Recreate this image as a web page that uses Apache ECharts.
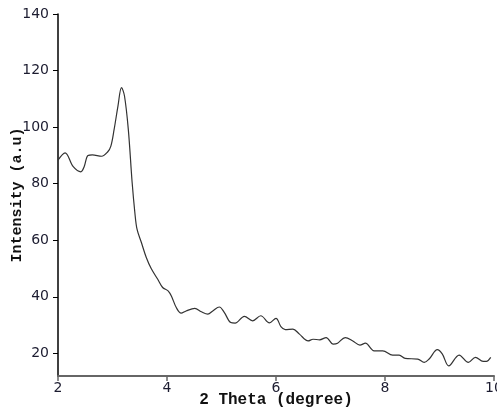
<!DOCTYPE html>
<html>
<head>
<meta charset="utf-8">
<script src="https://cdn.jsdelivr.net/npm/echarts@6/dist/echarts.min.js"></script>
<style>
html,body{margin:0;padding:0;background:#fff;}
#chart{width:497px;height:410px;}
</style>
</head>
<body>
<div id="chart"></div>
<script>
var twoTheta = [2.00,2.13,2.28,2.42,2.48,2.55,2.63,2.80,2.91,2.97,3.03,3.10,3.165,3.22,3.29,3.36,3.41,3.45,3.53,3.62,3.71,3.83,3.92,4.02,4.08,4.17,4.26,4.35,4.51,4.63,4.75,4.84,4.96,5.05,5.17,5.25,5.42,5.57,5.72,5.88,6.00,6.09,6.17,6.31,6.43,6.59,6.68,6.80,6.92,7.05,7.13,7.27,7.41,7.54,7.64,7.80,7.96,8.14,8.26,8.37,8.60,8.72,8.81,8.96,9.05,9.17,9.36,9.53,9.66,9.80,9.86,9.94];
var intensity = [88.3,90.9,86.0,84.2,86.0,90.0,90.2,89.7,91.2,93.3,99.2,107.4,114.0,111.0,99.2,80.5,69.8,63.9,59.2,53.9,50.0,46.2,43.3,42.1,40.3,36.2,34.2,35.0,35.9,34.7,33.9,35.0,36.4,34.5,30.9,30.7,33.1,31.5,33.3,30.8,32.4,29.5,28.4,28.6,26.8,24.4,25.0,24.8,25.6,23.3,23.6,25.6,24.4,22.9,23.6,20.9,20.9,19.4,19.4,18.2,18.0,16.8,18.0,21.3,19.8,15.6,19.4,16.8,18.6,17.2,17.2,18.6];
var yTicks = [20,40,60,80,100,120,140];
var xTicks = [2,4,6,8,10];

var points = twoTheta.map(function(x,i){return [x,intensity[i]];});
var chart = echarts.init(document.getElementById('chart'), null, {renderer:'canvas'});
var labelStyle = {color:'#1c1c30', fontFamily:'DejaVu Sans', fontSize:14};
chart.setOption({
  animation:false,
  backgroundColor:'#fff',
  grid:{left:58,right:3,top:14,bottom:34,containLabel:false,outerBoundsMode:'none'},
  xAxis:{
    type:'value', min:2, max:10, interval:2,
    name:'2 Theta (degree)', nameLocation:'middle', nameGap:16, nameMoveOverlap:false,
    nameTextStyle:{color:'#111', fontFamily:'Liberation Mono', fontWeight:'bold', fontSize:16},
    axisLine:{show:true,onZero:false,lineStyle:{color:'#666',width:2}},
    axisTick:{show:true,inside:false,length:5,lineStyle:{color:'#666',width:1.5}, customValues:xTicks},
    axisLabel:Object.assign({margin:5, customValues:xTicks}, labelStyle),
    splitLine:{show:false}
  },
  yAxis:{
    type:'value', min:12, max:140,
    name:'Intensity (a.u)', nameLocation:'middle', nameGap:33, nameMoveOverlap:false,
    nameTextStyle:{color:'#111', fontFamily:'Liberation Mono', fontWeight:'bold', fontSize:15},
    axisLine:{show:true,onZero:false,lineStyle:{color:'#000',width:1.5}},
    axisTick:{show:true,inside:false,length:5,lineStyle:{color:'#000',width:1}, customValues:yTicks},
    axisLabel:Object.assign({margin:9, customValues:yTicks}, labelStyle),
    splitLine:{show:false}
  },
  series:[{
    type:'line', data:points, smooth:0.35, symbol:'none',
    lineStyle:{color:'#333',width:1.2}
  }]
});
</script>
</body>
</html>
